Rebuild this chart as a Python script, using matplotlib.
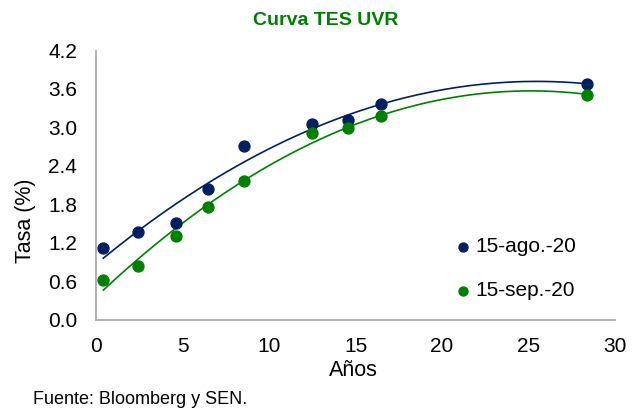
import numpy as np
import matplotlib
matplotlib.use("Agg")
import matplotlib.pyplot as plt

plt.rcParams['font.family'] = ['Liberation Sans', 'DejaVu Sans']

anos = [0.42, 2.42, 4.6, 6.5, 8.55, 12.5, 14.55, 16.45, 28.4]
ago = [1.11, 1.37, 1.50, 2.03, 2.71, 3.06, 3.12, 3.37, 3.67]
sep = [0.62, 0.84, 1.30, 1.76, 2.16, 2.91, 2.99, 3.17, 3.50]
labels = ['15-ago.-20', '15-sep.-20']
colors = ['#002060', '#008000']
yticks = [0.0, 0.6, 1.2, 1.8, 2.4, 3.0, 3.6, 4.2]
xticks = [0, 5, 10, 15, 20, 25, 30]

W, H = 635, 408
fig = plt.figure(figsize=(6.35, 4.08), dpi=100)
ax = fig.add_axes([96/W, 1-319.5/H, (615-96)/W, (319.5-50.5)/H])

xs = np.linspace(min(anos), max(anos), 200)
for ys, c, lab in zip([ago, sep], colors, labels):
    ax.scatter(anos, ys, s=62, color=c, zorder=3, label=lab)
    p = np.polyfit(anos, ys, 2)
    ax.plot(xs, np.polyval(p, xs), color=c, lw=1.2, zorder=2)

ax.set_xlim(0, 30)
ax.set_ylim(0, 4.2)
ax.set_xticks(xticks)
ax.set_yticks(yticks)
ax.set_yticklabels([f"{v:.1f}" for v in yticks])
ax.tick_params(length=0, labelsize=15)
ax.tick_params(axis='y', pad=13.5)
ax.tick_params(axis='x', pad=12.5)
for s in ['top', 'right']:
    ax.spines[s].set_visible(False)
for s in ['left', 'bottom']:
    ax.spines[s].set_color('#A6A6A6')
    ax.spines[s].set_linewidth(1.2)

fig.text(353/W, 1-370/H, 'Años', fontsize=15.5, ha='center', va='center')
fig.text(26/W, 1-221/H, 'Tasa (%)', fontsize=15.5, ha='center', va='center', rotation=90)
fig.text(326/W, 1-20.5/H, 'Curva TES UVR', color='#008000', fontsize=14,
         fontweight='bold', ha='center', va='center')

leg = ax.legend(loc='center left', bbox_to_anchor=(454.7/W, 1-268.85/H),
                bbox_transform=fig.transFigure, frameon=False,
                fontsize=15, handlelength=0.8, handletextpad=0.18,
                labelspacing=1.2, markerscale=0.82, borderaxespad=0, borderpad=0)

fig.text(33/W, 1-404/H, 'Fuente: Bloomberg y SEN.', fontsize=13, va='baseline')

fig.savefig('out.png', dpi=100)
